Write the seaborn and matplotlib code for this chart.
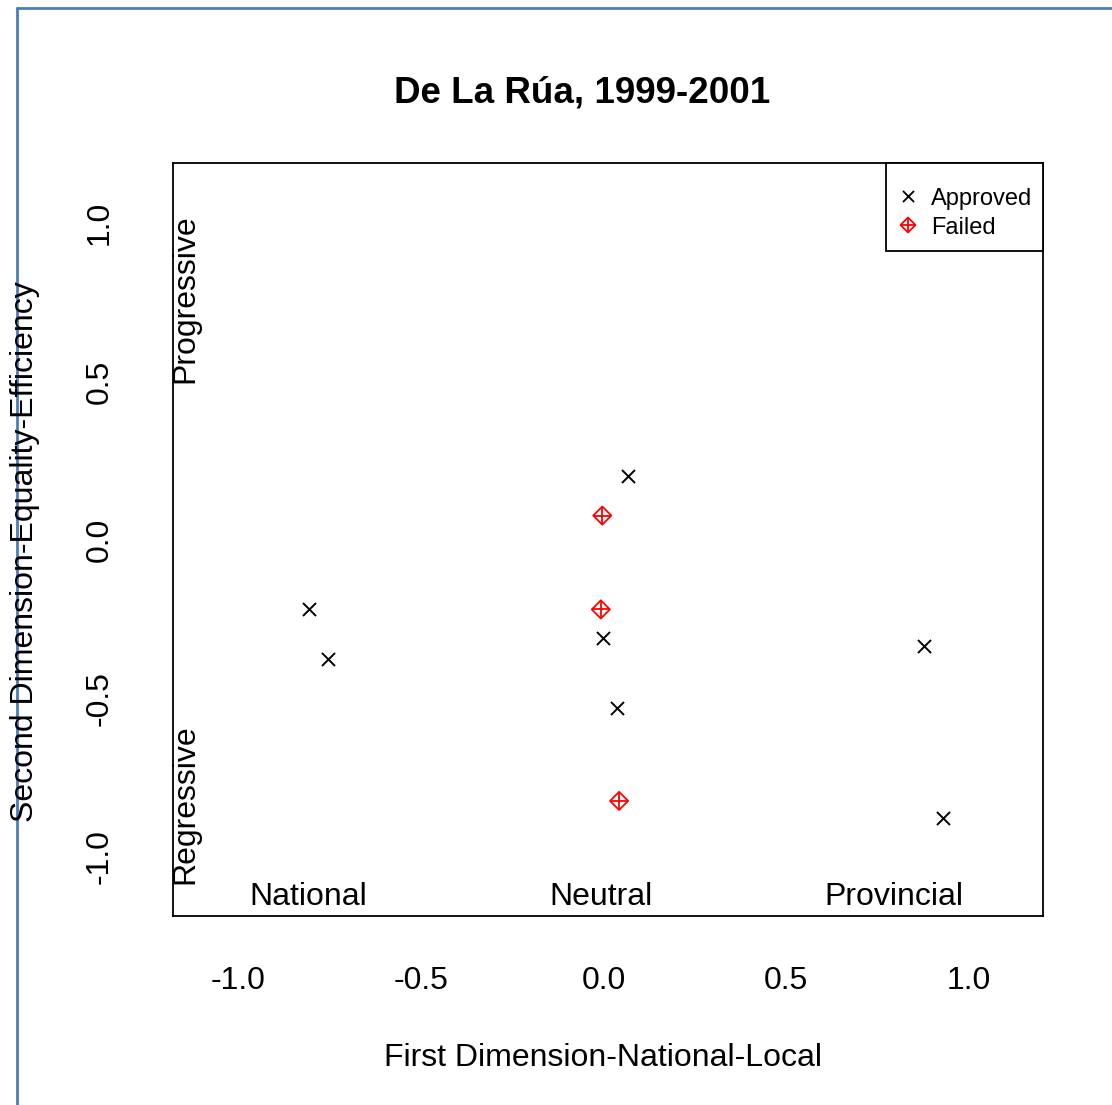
import numpy as np
import pandas as pd
import matplotlib
matplotlib.use("Agg")
import matplotlib.pyplot as plt
import matplotlib.transforms as mtransforms
import seaborn as sns
from matplotlib.lines import Line2D
from matplotlib.patches import Rectangle

# ---- data ----
approved_x = [0.054, -0.819, -0.768, -0.016, 0.022, 0.864, 0.916]
approved_y = [0.202, -0.219, -0.375, -0.308, -0.529, -0.333, -0.876]
failed_x = [-0.017, -0.021, 0.029]
failed_y = [0.077, -0.219, -0.823]

region_labels = ["National", "Neutral", "Provincial"]
region_x = [-0.822, -0.02, 0.78]
side_labels = ["Progressive", "Regressive"]
side_y = [0.76, -0.833]
xticks = [-1.0, -0.5, 0.0, 0.5, 1.0]
yticks = [-1.0, -0.5, 0.0, 0.5, 1.0]

approved = pd.DataFrame({"x": approved_x, "y": approved_y})
failed = pd.DataFrame({"x": failed_x, "y": failed_y})

sns.set_style("white")
plt.rcParams["font.family"] = ["Liberation Sans", "DejaVu Sans"]
plt.rcParams["text.color"] = "black"
plt.rcParams["axes.labelcolor"] = "black"
plt.rcParams["xtick.color"] = "black"
plt.rcParams["ytick.color"] = "black"
plt.rcParams["axes.unicode_minus"] = False

W, H = 1112, 1105
fig = plt.figure(figsize=(W / 100, H / 100), dpi=100)
ax = fig.add_axes([173 / W, 1 - 916 / H, (1043 - 173) / W, (916 - 163) / H])

sns.scatterplot(data=approved, x="x", y="y", marker="x", color="black",
                s=88, linewidth=1.4, ax=ax, legend=False)
sns.scatterplot(data=failed, x="x", y="y", marker="D", color="red",
                facecolor="none", edgecolor="red", s=85, linewidth=1.3,
                ax=ax, legend=False)
sns.scatterplot(data=failed, x="x", y="y", marker="+", color="red",
                s=169, linewidth=1.3, ax=ax, legend=False)

ax.set_xlim(-1.1915, 1.1888)
ax.set_ylim(-1.186, 1.189)
ax.set_xticks(xticks)
ax.set_yticks(yticks)
ax.set_xticklabels([f"{v:.1f}" for v in xticks])
ax.set_yticklabels([f"{v:.1f}" for v in yticks], rotation=90, va="center")
ax.tick_params(axis="both", direction="out", length=13, width=1.3,
               labelsize=23, colors="black")
ax.tick_params(axis="x", pad=23)
ax.tick_params(axis="y", pad=29)
shift = mtransforms.ScaledTranslation(-5 / 100, 0, fig.dpi_scale_trans)
for lab in ax.get_xticklabels():
    lab.set_transform(lab.get_transform() + shift)
ax.set_xlabel("")
ax.set_ylabel("")
for sp in ax.spines.values():
    sp.set_visible(True)
    sp.set_color("black")
    sp.set_linewidth(1.3)

# region annotations
for lab, xv in zip(region_labels, region_x):
    ax.text(xv, -1.151, lab, ha="center", va="baseline", fontsize=23)
for lab, yv in zip(side_labels, side_y):
    ax.text(-1.159, yv, lab, ha="center", va="center", rotation=90, fontsize=23)

# legend (drawn R-style)
bx0 = (886 - 173) / 870
by0 = (916 - 251) / 753
ax.add_patch(Rectangle((bx0, by0), 1 - bx0, 1 - by0, transform=ax.transAxes,
                       facecolor="white", edgecolor="black", linewidth=1.3,
                       zorder=5, clip_on=False))
lx = (908 - 173) / 870
tx = (931 - 173) / 870
ry1 = (916 - 196) / 753
ry2 = (916 - 225) / 753
ax.scatter([lx], [ry1], marker="x", color="black", s=64, linewidths=1.3,
           transform=ax.transAxes, zorder=6, clip_on=False)
ax.scatter([lx], [ry2], marker="D", facecolors="none", edgecolors="red", s=58,
           linewidths=1.3, transform=ax.transAxes, zorder=6, clip_on=False)
ax.scatter([lx], [ry2], marker="+", color="red", s=115, linewidths=1.3,
           transform=ax.transAxes, zorder=6, clip_on=False)
ax.text(tx, (916 - 205) / 753, "Approved", transform=ax.transAxes, fontsize=17,
        ha="left", va="baseline", zorder=7)
ax.text(tx, (916 - 234) / 753, "Failed", transform=ax.transAxes, fontsize=17,
        ha="left", va="baseline", zorder=7)

# titles / labels
fig.text(582 / W, 1 - 103 / H, "De La Rúa, 1999-2001", ha="center", va="baseline",
         fontsize=26.5, fontweight="bold")
fig.text(603 / W, 1 - 1066 / H, "First Dimension-National-Local", ha="center",
         va="baseline", fontsize=23)
fig.text(25 / W, 1 - 552 / H, "Second Dimension-Equality-Efficiency", ha="center",
         va="center", rotation=90, fontsize=23)

# blue frame lines
blue = "#4A7EBB"
fig.add_artist(Line2D([17 / W, 1], [1 - 7.5 / H, 1 - 7.5 / H], color=blue,
                      linewidth=2.0, transform=fig.transFigure))
fig.add_artist(Line2D([17 / W, 17 / W], [1 - 7.5 / H, 0], color=blue,
                      linewidth=2.0, transform=fig.transFigure))

fig.savefig("out.png", dpi=100, facecolor="white")
